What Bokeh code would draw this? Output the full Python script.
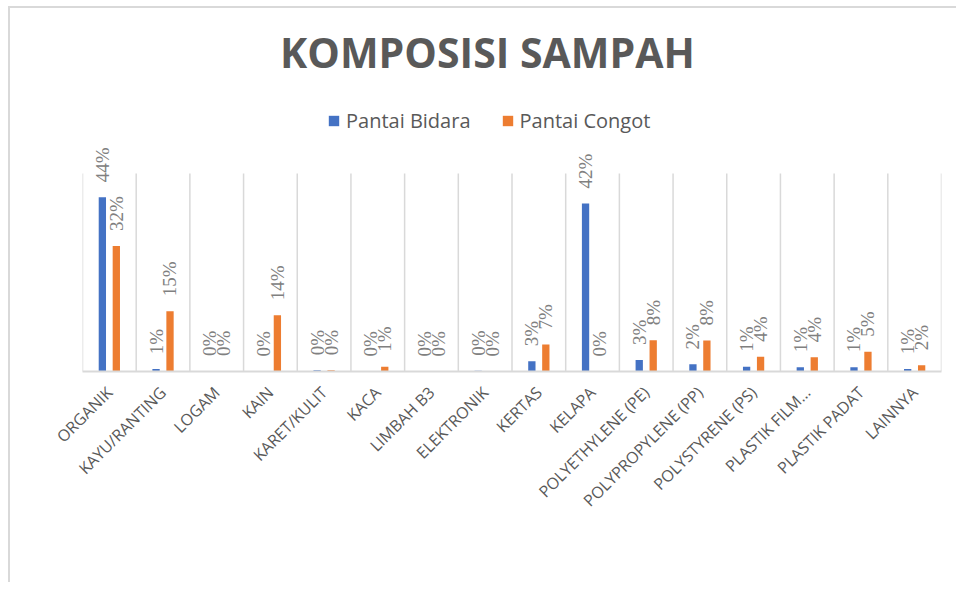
from math import pi
from bokeh.plotting import figure
from bokeh.models import (ColumnDataSource, FactorRange, Range1d,
                          LabelSet, Label, Legend, LegendItem)
from bokeh.transform import dodge
from bokeh.embed import file_html
from bokeh.resources import INLINE

# ---- data ----
categories = ["ORGANIK", "KAYU/RANTING", "LOGAM", "KAIN", "KARET/KULIT", "KACA",
              "LIMBAH B3", "ELEKTRONIK", "KERTAS", "KELAPA", "POLYETHYLENE (PE)",
              "POLYPROPYLENE (PP)", "POLYSTYRENE (PS)", "PLASTIK FILM…",
              "PLASTIK PADAT", "LAINNYA"]
pantai_bidara = [0.440, 0.006, 0.001, 0.000, 0.003, 0.000, 0.000, 0.002,
                 0.026, 0.424, 0.029, 0.018, 0.012, 0.011, 0.011, 0.006]
pantai_congot = [0.317, 0.152, 0.001, 0.142, 0.003, 0.012, 0.000, 0.000,
                 0.068, 0.000, 0.079, 0.078, 0.037, 0.036, 0.050, 0.016]
series_names = ["Pantai Bidara", "Pantai Congot"]
title_text = "KOMPOSISI SAMPAH"
axis_max = 0.5          # value axis maximum (hidden axis)

BLUE = "#4472C4"
ORANGE = "#ED7D31"
GRID = "#d9d9d9"
TXT = "#595959"
LBL = "#808080"

def pct(v):
    return f"{int(v * 100 + 0.5)}%"

src = ColumnDataSource(data=dict(
    cat=categories,
    bidara=pantai_bidara,
    congot=pantai_congot,
    bidara_lbl=[pct(v) for v in pantai_bidara],
    congot_lbl=[pct(v) for v in pantai_congot],
))

# frame: plot area 198px tall for 0..axis_max, extended upward to hold title/legend
PLOT_H = 198
EXTRA = 149
y_top = axis_max * (PLOT_H + EXTRA) / PLOT_H

p = figure(x_range=FactorRange(factors=categories, range_padding=0, factor_padding=0),
           y_range=Range1d(0, y_top),
           width=948, height=576,
           min_border_left=72, min_border_right=17,
           min_border_top=16, min_border_bottom=213,
           output_backend="svg", toolbar_location=None,
           styles={"margin-left": "8px", "margin-top": "6px",
                   "border-left": "2px solid #d9d9d9",
                   "border-top": "2px solid #d9d9d9"})

p.outline_line_color = None
p.yaxis.visible = False
p.ygrid.visible = False
p.xgrid.visible = False

p.xaxis.axis_line_color = GRID
p.xaxis.axis_line_width = 2
p.xaxis.major_tick_line_color = None
p.xaxis.minor_tick_line_color = None
p.xaxis.major_label_orientation = pi / 4
p.xaxis.major_label_standoff = 12
p.xaxis.major_label_text_font = "Open Sans"
p.xaxis.major_label_text_font_size = "16px"
p.xaxis.major_label_text_color = TXT

# category separator grid lines (from 0 to axis max)
p.segment(x0=dodge("cat", 0.5, range=p.x_range), y0=0,
          x1=dodge("cat", 0.5, range=p.x_range), y1=axis_max,
          source=src, line_color=GRID, line_width=1.5)
first = ColumnDataSource(data=dict(cat=categories[:1]))
p.segment(x0=dodge("cat", -0.5, range=p.x_range), y0=0,
          x1=dodge("cat", -0.5, range=p.x_range), y1=axis_max,
          source=first, line_color=GRID, line_width=1.5)

off = 0.13
bw = 0.136
r1 = p.vbar(x=dodge("cat", -off, range=p.x_range), top="bidara", width=bw,
            source=src, fill_color=BLUE, line_color=None)
r2 = p.vbar(x=dodge("cat", off, range=p.x_range), top="congot", width=bw,
            source=src, fill_color=ORANGE, line_color=None)

for col, lbl, d in (("bidara", "bidara_lbl", -off), ("congot", "congot_lbl", off)):
    ls = LabelSet(x=dodge("cat", d, range=p.x_range), y=col, text=lbl, source=src,
                  angle=pi / 2, text_align="left", text_baseline="middle",
                  y_offset=15, text_font="Open Sans", text_font_size="19px",
                  text_color=LBL)
    p.add_layout(ls)

title = Label(x=405, y=320, x_units="screen", y_units="screen", text=title_text,
              text_align="center", text_baseline="middle", text_font="Open Sans",
              text_font_style="bold", text_font_size="41px", text_color=TXT)
p.add_layout(title)

legend = Legend(items=[LegendItem(label=series_names[0], renderers=[r1]),
                       LegendItem(label=series_names[1], renderers=[r2])],
                orientation="horizontal", location=(245, 237),
                glyph_width=13, glyph_height=13, label_standoff=6, spacing=30,
                padding=0, margin=0, border_line_color=None,
                background_fill_alpha=0,
                label_text_font="Open Sans", label_text_font_size="20px",
                label_text_color=TXT)
p.add_layout(legend)

open("out.html", "w").write(file_html(p, INLINE))
